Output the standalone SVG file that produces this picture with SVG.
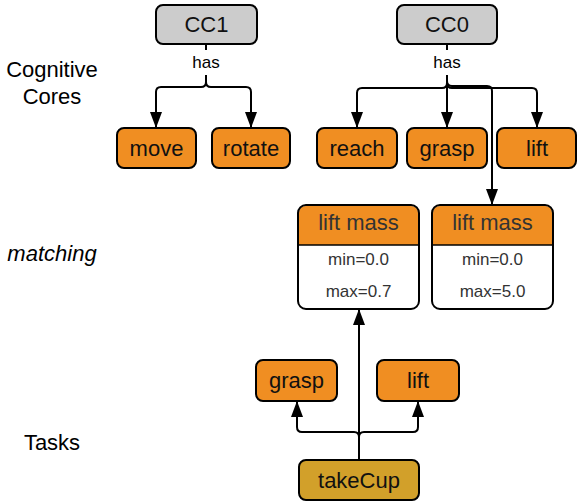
<svg xmlns="http://www.w3.org/2000/svg" width="578" height="503" viewBox="0 0 578 503">
<style>
text{font-family:"Liberation Sans",Arial,sans-serif;text-anchor:middle;dominant-baseline:central}
.cc{fill:#cccccc;stroke:#000;stroke-width:2}
.op{fill:#f08e22;stroke:#000;stroke-width:2}
.task{fill:#d2a02a;stroke:#000;stroke-width:2}
.lbl{font-size:22px;fill:#111}
.side{font-size:22px;fill:#000}
.has{font-size:17px;fill:#000}
.hdr{font-size:22px;fill:#333}
.val{font-size:17px;fill:#333}
.ln{fill:none;stroke:#000;stroke-width:2}
</style>
<defs>
<marker id="ah" markerWidth="16" markerHeight="12" refX="15" refY="6" orient="auto" markerUnits="userSpaceOnUse" viewBox="0 0 16 12">
<path d="M0,0 L16,6 L0,12 Z" fill="#000"/>
</marker>
</defs>
<rect width="578" height="503" fill="#fff"/>
<g id="side-labels">
<text class="side" x="52" y="69">Cognitive</text>
<text class="side" x="52" y="96">Cores</text>
<text class="side" x="52" y="253" font-style="italic">matching</text>
<text class="side" x="52" y="442">Tasks</text>
</g>
<g id="connectors">
<path class="ln" d="M206,44 V50"/>
<text class="has" x="206" y="62">has</text>
<path class="ln" d="M206,75 V82 Q206,87 201,87 H161 Q156,87 156,92 V127" marker-end="url(#ah)"/>
<path class="ln" d="M206,75 V82 Q206,87 211,87 H246 Q251,87 251,92 V127" marker-end="url(#ah)"/>
<path class="ln" d="M447,44 V50"/>
<text class="has" x="447" y="62">has</text>
<path class="ln" d="M447,75 V83 Q447,88 442,88 H362 Q357,88 357,93 V127" marker-end="url(#ah)"/>
<path class="ln" d="M447,75 V127" marker-end="url(#ah)"/>
<path class="ln" d="M447,75 V83 Q447,88 452,88 H532 Q537,88 537,93 V127" marker-end="url(#ah)"/>
<path class="ln" d="M447,75 V81 Q447,86 452,86 H487 Q492,86 492,91 V204" marker-end="url(#ah)"/>
<path class="ln" d="M359,460 V310" marker-end="url(#ah)"/>
<path class="ln" d="M359,460 V437 Q359,432 354,432 H302 Q297,432 297,427 V402" marker-end="url(#ah)"/>
<path class="ln" d="M359,460 V437 Q359,432 364,432 H413 Q418,432 418,427 V402" marker-end="url(#ah)"/>
</g>
<g id="CC1"><rect class="cc" x="156" y="5" width="101" height="39" rx="7"/><text class="lbl" x="206.5" y="24.5">CC1</text></g>
<g id="CC0"><rect class="cc" x="397" y="5" width="100" height="39" rx="7"/><text class="lbl" x="447" y="24.5">CC0</text></g>
<g id="move"><rect class="op" x="117" y="128" width="79" height="40" rx="7"/><text class="lbl" x="156.5" y="148">move</text></g>
<g id="rotate"><rect class="op" x="212" y="128" width="78" height="40" rx="7"/><text class="lbl" x="251" y="148">rotate</text></g>
<g id="reach"><rect class="op" x="317" y="128" width="80" height="40" rx="7"/><text class="lbl" x="357" y="148">reach</text></g>
<g id="grasp-cc"><rect class="op" x="407" y="128" width="80" height="40" rx="7"/><text class="lbl" x="447" y="148">grasp</text></g>
<g id="lift-cc"><rect class="op" x="497" y="128" width="79" height="40" rx="7"/><text class="lbl" x="537" y="148">lift</text></g>
<g id="liftmass-1">
<rect x="298" y="205" width="121" height="104" rx="8" fill="#fff"/>
<path d="M299,245 V213 Q299,206 306,206 H411 Q418,206 418,213 V245 Z" fill="#f08e22"/>
<line x1="298" y1="245" x2="419" y2="245" stroke="#000" stroke-width="1.5"/>
<rect x="298" y="205" width="121" height="104" rx="8" fill="none" stroke="#000" stroke-width="2"/>
<text class="hdr" x="358.5" y="222">lift mass</text>
<text class="val" x="358.5" y="259">min=0.0</text>
<text class="val" x="358.5" y="291">max=0.7</text>
</g>
<g id="liftmass-2">
<rect x="432" y="205" width="121" height="104" rx="8" fill="#fff"/>
<path d="M433,245 V213 Q433,206 440,206 H545 Q552,206 552,213 V245 Z" fill="#f08e22"/>
<line x1="432" y1="245" x2="553" y2="245" stroke="#000" stroke-width="1.5"/>
<rect x="432" y="205" width="121" height="104" rx="8" fill="none" stroke="#000" stroke-width="2"/>
<text class="hdr" x="492.5" y="222">lift mass</text>
<text class="val" x="492.5" y="259">min=0.0</text>
<text class="val" x="492.5" y="291">max=5.0</text>
</g>
<g id="grasp-task"><rect class="op" x="256" y="360" width="81" height="41" rx="7"/><text class="lbl" x="296.5" y="380">grasp</text></g>
<g id="lift-task"><rect class="op" x="377" y="360" width="82" height="41" rx="7"/><text class="lbl" x="418" y="380">lift</text></g>
<g id="takeCup"><rect class="task" x="299" y="460" width="120" height="40" rx="7"/><text class="lbl" x="359" y="480">takeCup</text></g>
</svg>
